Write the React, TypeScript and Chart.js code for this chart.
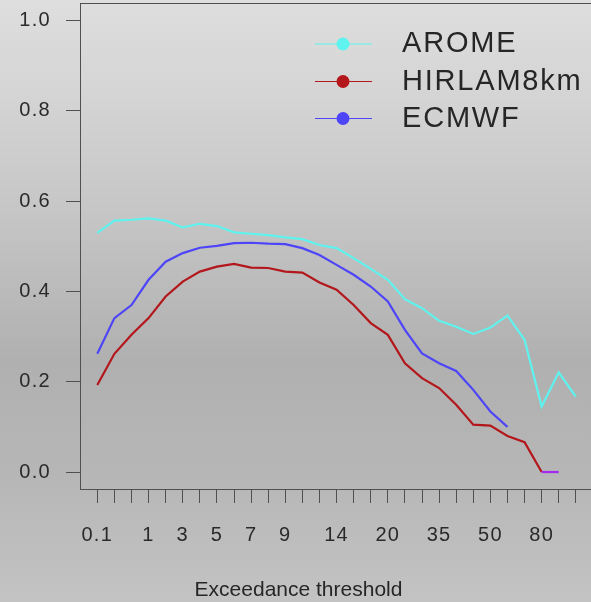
import React, { useEffect, useRef } from "react";
import { Chart, registerables } from "chart.js";

Chart.register(...registerables);

const thresholds = ["0.1", "0.2", "0.5", "1", "2", "3", "4", "5", "6", "7", "8", "9", "10", "12", "14", "16", "18", "20", "25", "30", "35", "40", "45", "50", "60", "70", "80", "90", "100"];
const shownLabels = ["0.1", "1", "3", "5", "7", "9", "14", "20", "35", "50", "80"];
const yTickValues = [0, 0.2, 0.4, 0.6, 0.8, 1.0];

const aromeValues = [0.530, 0.557, 0.559, 0.562, 0.557, 0.542, 0.550, 0.545, 0.531, 0.528, 0.525, 0.520, 0.516, 0.503, 0.496, 0.474, 0.450, 0.426, 0.383, 0.363, 0.335, 0.322, 0.306, 0.320, 0.347, 0.293, 0.145, 0.221, 0.167];
const hirlamValues = [0.193, 0.262, 0.304, 0.341, 0.389, 0.422, 0.444, 0.455, 0.461, 0.453, 0.452, 0.444, 0.442, 0.420, 0.404, 0.370, 0.330, 0.304, 0.241, 0.208, 0.186, 0.149, 0.105, 0.103, 0.080, 0.066, 0.0, 0.0];
const ecmwfValues = [0.262, 0.341, 0.370, 0.426, 0.466, 0.485, 0.497, 0.501, 0.507, 0.508, 0.506, 0.505, 0.496, 0.481, 0.459, 0.437, 0.411, 0.378, 0.315, 0.263, 0.241, 0.224, 0.182, 0.134, 0.100];

const seriesNames = ["AROME", "HIRLAM8km", "ECMWF"];
const seriesColors = ["#5EF3EE", "#B3161B", "#4D45F7"];
const xTitle = "Exceedance threshold";

const FONT = "'Liberation Sans', Arial, sans-serif";
const AXIS_COLOR = "#505050";

const toPoints = (vals: number[]) => vals.map((v, i) => ({ x: i, y: v }));

const backgroundPlugin = {
  id: "bgGradient",
  beforeDraw(chart: any) {
    const { ctx, width, height } = chart;
    ctx.save();
    const g = ctx.createLinearGradient(0, 0, 0, height);
    g.addColorStop(0, "#DEDEDE");
    g.addColorStop(0.15, "#D5D5D5");
    g.addColorStop(0.35, "#C6C6C6");
    g.addColorStop(0.6, "#B0B0B0");
    g.addColorStop(0.78, "#B6B6B6");
    g.addColorStop(1, "#C3C3C3");
    ctx.fillStyle = g;
    ctx.fillRect(0, 0, width, height);
    ctx.restore();
    (ctx as any).letterSpacing = "1.3px";
  },
};

const boxPlugin = {
  id: "boxAndLegend",
  afterDraw(chart: any) {
    const { ctx, chartArea } = chart;
    ctx.save();
    // top and right border of plot box
    ctx.strokeStyle = AXIS_COLOR;
    ctx.lineWidth = 1;
    ctx.beginPath();
    ctx.moveTo(chartArea.left, chartArea.top + 0.5);
    ctx.lineTo(chartArea.right, chartArea.top + 0.5);
    ctx.lineTo(chartArea.right, chartArea.bottom);
    ctx.stroke();

    // legend
    const rows = [44, 81.5, 118.5];
    chart.data.datasets.forEach((ds: any, i: number) => {
      const y = rows[i];
      ctx.strokeStyle = ds.borderColor;
      ctx.lineWidth = 1;
      ctx.beginPath();
      ctx.moveTo(315, y);
      ctx.lineTo(372, y);
      ctx.stroke();
      ctx.fillStyle = ds.borderColor;
      ctx.beginPath();
      ctx.arc(343, y, 6.5, 0, Math.PI * 2);
      ctx.fill();
      ctx.fillStyle = "#262626";
      ctx.font = `29px ${FONT}`;
      (ctx as any).letterSpacing = "1.8px";
      ctx.textBaseline = "middle";
      ctx.textAlign = "left";
      ctx.fillText(ds.label, 402, y);
    });

    // x axis title
    ctx.fillStyle = "#262626";
    ctx.font = `21px ${FONT}`;
    (ctx as any).letterSpacing = "0px";
    ctx.textAlign = "center";
    ctx.textBaseline = "middle";
    ctx.fillText(xTitle, 298.5, 590);
    ctx.restore();
    (ctx as any).letterSpacing = "0px";
  },
};

export default function App() {
  const canvasRef = useRef<HTMLCanvasElement | null>(null);

  useEffect(() => {
    if (!canvasRef.current) return;
    const chart = new Chart(canvasRef.current, {
      type: "line",
      data: {
        datasets: [
          {
            label: seriesNames[0],
            data: toPoints(aromeValues),
            borderColor: seriesColors[0],
            backgroundColor: seriesColors[0],
            borderWidth: 2.2,
            pointRadius: 0,
            tension: 0,
          },
          {
            label: seriesNames[1],
            data: toPoints(hirlamValues),
            borderColor: seriesColors[1],
            backgroundColor: seriesColors[1],
            borderWidth: 2.2,
            pointRadius: 0,
            tension: 0,
            segment: {
              borderColor: (c: any) => (c.p0DataIndex >= 26 ? "#A52AF0" : undefined),
            },
          },
          {
            label: seriesNames[2],
            data: toPoints(ecmwfValues),
            borderColor: seriesColors[2],
            backgroundColor: seriesColors[2],
            borderWidth: 2.2,
            pointRadius: 0,
            tension: 0,
          },
        ],
      },
      options: {
        responsive: false,
        animation: false,
        devicePixelRatio: 1,
        layout: { padding: { top: 3, right: 4, left: 0, bottom: 0 } },
        plugins: {
          legend: { display: false },
          tooltip: { enabled: false },
        },
        scales: {
          x: {
            type: "linear",
            min: -1.012,
            max: 29.18,
            afterFit: (s: any) => {
              s.height = 113;
              s.paddingLeft = 0;
              s.paddingRight = 0;
            },
            afterBuildTicks: (s: any) => {
              s.ticks = thresholds.map((_, i) => ({ value: i }));
            },
            grid: {
              drawOnChartArea: false,
              drawTicks: true,
              tickLength: 14,
              color: AXIS_COLOR,
              lineWidth: 1,
            },
            border: { display: true, color: AXIS_COLOR, width: 1 },
            ticks: {
              autoSkip: false,
              maxRotation: 0,
              padding: 20,
              color: "#2A2A2A",
              font: { family: FONT, size: 20 },
              callback: (v: any) => {
                const lab = thresholds[Math.round(Number(v))];
                return shownLabels.includes(lab) ? lab : "";
              },
            },
          },
          y: {
            type: "linear",
            min: -0.0376,
            max: 1.0392,
            afterFit: (s: any) => {
              s.width = 80;
              s.paddingTop = 0;
              s.paddingBottom = 0;
            },
            afterBuildTicks: (s: any) => {
              s.ticks = yTickValues.map((v) => ({ value: v }));
            },
            grid: {
              drawOnChartArea: false,
              drawTicks: true,
              tickLength: 14,
              color: AXIS_COLOR,
              lineWidth: 1,
            },
            border: { display: true, color: AXIS_COLOR, width: 1 },
            ticks: {
              padding: 15,
              color: "#2A2A2A",
              font: { family: FONT, size: 20 },
              callback: (v: any) => Number(v).toFixed(1),
            },
          },
        },
      },
      plugins: [backgroundPlugin, boxPlugin],
    } as any);
    return () => chart.destroy();
  }, []);

  return (
    <div
      style={{
        position: "fixed",
        left: 0,
        top: 0,
        width: 591,
        height: 602,
        overflow: "hidden",
        background: "#C8C8C8",
      }}
    >
      <canvas ref={canvasRef} width={600} height={602} style={{ display: "block" }} />
    </div>
  );
}
